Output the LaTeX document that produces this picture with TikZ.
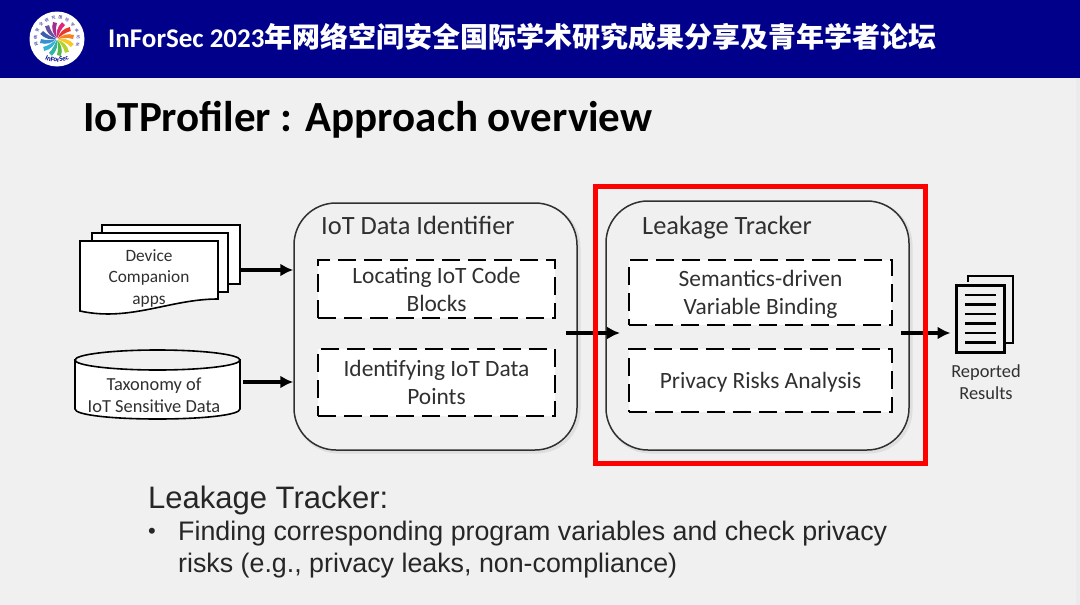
\documentclass[tikz,border=0pt]{standalone}
\usepackage{fontspec}
\setmainfont{Carlito}
\newfontfamily\armfont{Liberation Sans}
\newfontfamily\cjk{Noto Sans CJK SC}
\usetikzlibrary{positioning, calc, shapes.geometric, decorations.text, arrows.meta}
\definecolor{slidebg}{HTML}{F0F0F0}
\definecolor{headblue}{HTML}{00008B}
\definecolor{inkgray}{HTML}{303030}

\begin{document}
\begin{tikzpicture}[
            x=1pt, y=-1pt,
            module/.style={rectangle, draw=inkgray, fill=slidebg, line width=1.5pt, rounded corners=42pt},
            step box/.style={rectangle, draw=black, fill=white, line width=2pt, dash pattern=on 18pt off 8pt, align=center, font=\fontsize{23.4}{28}\selectfont, text=inkgray, inner sep=0pt},
            label/.style={font=\fontsize{26.4}{30}\selectfont, text=inkgray, inner sep=0pt},
            small/.style={font=\fontsize{18.4}{22}\selectfont, text=inkgray, align=center, inner sep=0pt},
            page/.style={draw=black, fill=white, line width=1.6pt},
            flow/.style={draw=black, line width=3.4pt, -{Latex[length=13pt,width=13pt]}}
        ]
            \useasboundingbox (0,0) rectangle (1080,605);
            % --- slide ---
            \fill[slidebg] (0,0) rectangle (1080,605);
            \fill[black!8] (1076,78) rectangle (1080,605);
            \fill[headblue] (0,0) rectangle (1080,78);

            % --- logo ---
            \node[circle, fill=white, minimum size=55pt, inner sep=0pt] (logo) at (57,39) {};
            \foreach \ang/\col in {0/F58220, 30/E8392B, 60/E0267A, 90/A0308C, 120/6A4FA0, 150/3A5FB0, 180/3A8FD0, 210/35B0D8, 240/30B5A0, 270/55B848, 300/B5D22C, 330/F7C81E}{
                \definecolor{petal}{HTML}{\col}
                \begin{scope}[shift={(logo.center)}, rotate=\ang]
                    \fill[petal] (1,0) .. controls (5,-4) and (10,-6) .. (17,-4) -- (16,0) .. controls (11,-1.5) and (6,-1) .. (1,0);
                \end{scope}
            }
            \path[decorate, decoration={text along path, text align=center, text={|\fontsize{7}{8}\selectfont\bfseries\color{headblue}|InForSec}}] (36,50) .. controls (43,66) and (71,66) .. (78,50);
            \path[decorate, decoration={text along path, text align=fit to path, text={|\fontsize{3.8}{5}\cjk\color{headblue}|网络安全研究国际学术论坛}}] (38.2,45.8) .. controls (33.45,32.74) and (43.1,19) .. (57,19) .. controls (70.9,19) and (80.55,32.74) .. (75.8,45.8);

            % --- titles ---
            \node[anchor=west, inner sep=0pt, text=white, font=\fontsize{27}{32}\selectfont\bfseries] (headline) at (108,37) {InForSec 2023{\cjk\fontsize{28}{32}\selectfont 年网络空间安全国际学术研究成果分享及青年学者论坛}};
            \node[anchor=west, inner sep=0pt, font=\fontsize{43}{48}\selectfont\bfseries] (title) at (83,120) {IoTProfiler : Approach overview};

            % --- inputs ---
            \draw[page] (102,225) rectangle (240,284);
            \draw[page] (92,233) rectangle (228,292);
            \draw[page] (80,241) -- (218,241) -- (218,299) .. controls (170,299) and (130,322) .. (80,311) -- cycle;
            \node[small, font=\fontsize{17.3}{21.5}\selectfont] (apps) at (149,278) {Device\\Companion\\apps};
            \draw[page] (75,360) -- (75,409) .. controls (75,415) and (112,419) .. (157.5,419) .. controls (203,419) and (240,415) .. (240,409) -- (240,360) -- cycle;
            \draw[page, fill=slidebg] (157.5,360) ellipse [x radius=82.5, y radius=10];
            \node[small] (taxonomy) at (154,395) {Taxonomy of\\IoT Sensitive Data};

            % --- modules ---
            \draw[gray!25, line width=3pt, rounded corners=42pt] (296,205) rectangle (579,452);
            \draw[gray!25, line width=3pt, rounded corners=42pt] (608,203) rectangle (911,452);
            \node[module, minimum width=283pt, minimum height=247pt] (identifier) at (435.5,326.5) {};
            \node[module, minimum width=303pt, minimum height=249pt] (tracker) at (757.5,325.5) {};
            \node[label, anchor=west] (idtitle) at (321,225) {IoT Data Identifier};
            \node[label, anchor=west] (trtitle) at (642,227.5) {Leakage Tracker};
            \node[step box, minimum width=237pt, minimum height=58pt] (locate) at (436.5,289) {Locating IoT Code\\Blocks};
            \node[step box, minimum width=237pt, minimum height=67pt] (points) at (436.5,382.5) {Identifying IoT Data\\Points};
            \node[step box, minimum width=263pt, minimum height=65pt] (binding) at (760.5,292.5) {\rule{0pt}{21pt}Semantics-driven\\Variable Binding};
            \node[step box, minimum width=263pt, minimum height=63pt] (risks) at (760.5,380.5) {\rule{0pt}{19pt}Privacy Risks Analysis};

            % --- results ---
            \draw[black, line width=2.4pt] (968,282) -- (968,276) -- (1013,276) -- (1013,343) -- (1006,343);
            \node[rectangle, draw=black, fill=slidebg, line width=3pt, minimum width=48pt, minimum height=67pt, inner sep=0pt] (report) at (980,318.5) {};
            \foreach \yy in {295,304.5,314,323.5,333,342.5}{
                \draw[black, line width=2.8pt] (965,\yy) -- (996,\yy);
            }
            \node[small, below=11pt of report, xshift=6pt] (reported) {Reported\\Results};

            % --- arrows ---
            \coordinate (appsout) at (241,270);
            \coordinate (taxout) at (243,382);
            \draw[flow] (appsout) -- (appsout -| identifier.west);
            \draw[flow] (taxout) -- (taxout -| identifier.west);
            \coordinate (midout) at (566,333);
            \coordinate (midin) at (620,333);
            \draw[flow] (midout) -- (midin);
            \coordinate (lastout) at (901,333);
            \draw[flow, shorten >=4pt] (lastout) -- (lastout -| report.west);

            % --- highlight ---
            \draw[red, line width=5pt] (595,186) rectangle (925,463);

            % --- notes ---
            \node[anchor=west, inner sep=0pt, font=\armfont\fontsize{31}{36}\selectfont, text=black!85] (notehead) at (148,500) {Leakage Tracker:};
            \node[anchor=west, inner sep=0pt, font=\armfont\fontsize{22}{33}\selectfont, text=black!85] (bullet) at (148,533) {•};
            \node[anchor=north west, inner sep=0pt, align=left, font=\armfont\fontsize{26.8}{32.5}\selectfont, text=black!85] (notebody) at (178,520.5) {Finding corresponding program variables and check privacy\\risks (e.g., privacy leaks, non-compliance)};
        \end{tikzpicture}
\end{document}
